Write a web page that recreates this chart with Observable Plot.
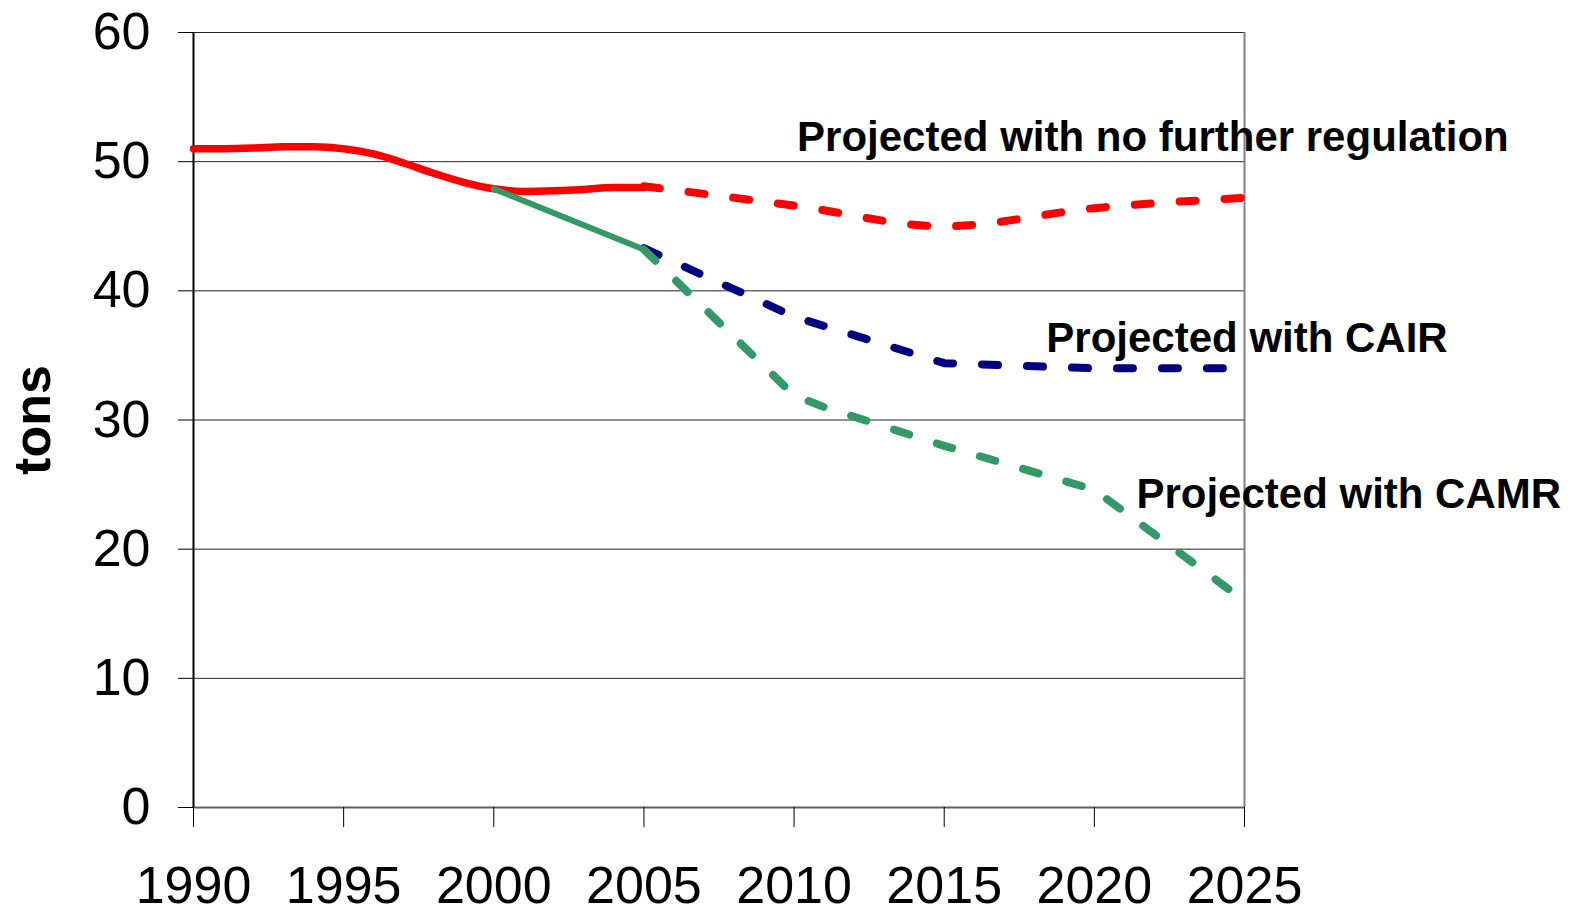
<!DOCTYPE html>
<html><head><meta charset="utf-8">
<script src="https://cdn.jsdelivr.net/npm/d3@7"></script>
<script src="https://cdn.jsdelivr.net/npm/@observablehq/plot@0.6"></script>
<style>html,body{margin:0;padding:0;background:#fff} svg{overflow:visible;display:block}</style>
</head><body><div id="chart"></div>
<script>
// Historical (solid red)
const actualYears  = [1990, 1991, 1992, 1993, 1994, 1995, 1996, 1997, 1998, 1999, 2000, 2001, 2002, 2003, 2004, 2005];
const actualValues = [51.0, 51.0, 51.05, 51.15, 51.15, 51.0, 50.6, 49.9, 49.1, 48.4, 47.9, 47.7, 47.75, 47.85, 48.0, 48.0];
// CAIR/CAMR path 2000-2005 (solid green)
const cutYears  = [2000, 2005];
const cutValues = [47.9, 43.2];
// Projected with no further regulation (dashed red)
const noRegYears  = [2005, 2010, 2015, 2020, 2025];
const noRegValues = [48.1, 46.6, 45.0, 46.4, 47.2];
// Projected with CAIR (dashed navy)
const cairYears  = [2005, 2010, 2015, 2020, 2025];
const cairValues = [43.3, 38.0, 34.4, 34.0, 34.0];
// Projected with CAMR (dashed green)
const camrYears  = [2005, 2010, 2011, 2015, 2020, 2025];
const camrValues = [43.2, 31.9, 31.0, 28.0, 24.6, 16.0];
// Axis ticks
const xTicks = [1990, 1995, 2000, 2005, 2010, 2015, 2020, 2025];
const yTicks = [0, 10, 20, 30, 40, 50, 60];
// Annotations
const labelTexts  = ["Projected with no further regulation", "Projected with CAIR", "Projected with CAMR"];
const labelYears  = [2010.1, 2018.4, 2021.4];
const labelValues = [51.9, 36.3, 24.2];

const pts = (xs, ys) => xs.map((x, i) => ({x, y: ys[i]}));
const labels = labelTexts.map((t, i) => ({t, x: labelYears[i], y: labelValues[i]}));

const chart = Plot.plot({
  width: 1572, height: 916,
  marginLeft: 193, marginRight: 328, marginTop: 32, marginBottom: 109,
  style: {fontFamily: "'Liberation Sans', Arial, sans-serif", background: "#fff", color: "#000", overflow: "visible"},
  x: {domain: [1990, 2025]},
  y: {domain: [0, 60]},
  marks: [
    Plot.gridY(yTicks, {stroke: "#000", strokeOpacity: 0.85, strokeWidth: 1}),
    Plot.ruleX([2025], {stroke: "#808080", strokeWidth: 2}),
    Plot.ruleY([0], {stroke: "#606060", strokeWidth: 2}),
    Plot.ruleX([1990], {stroke: "#000", strokeWidth: 2}),
    Plot.axisY(yTicks, {tickSize: 15, tickPadding: 28, fontSize: 52, label: null, stroke: "#000"}),
    Plot.axisX(xTicks, {tickSize: 20, tickPadding: 39, fontSize: 52, label: null, tickFormat: d => String(d)}),
    Plot.line(pts(noRegYears, noRegValues), {x: "x", y: "y", stroke: "#FF0000", strokeWidth: 8, strokeDasharray: "16,29", curve: "monotone-x"}),
    Plot.line(pts(cairYears, cairValues), {x: "x", y: "y", stroke: "#000080", strokeWidth: 8, strokeDasharray: "16,29"}),
    Plot.line(pts(camrYears, camrValues), {x: "x", y: "y", stroke: "#339966", strokeWidth: 8, strokeDasharray: "16,29"}),
    Plot.line(pts(actualYears, actualValues), {x: "x", y: "y", stroke: "#FF0000", strokeWidth: 7.5, strokeLinecap: "round", curve: "monotone-x"}),
    Plot.line(pts(cutYears, cutValues), {x: "x", y: "y", stroke: "#339966", strokeWidth: 6}),
    Plot.text(labels, {x: "x", y: "y", text: "t", textAnchor: "start", fontSize: 42, fontWeight: "bold", fill: "#000"}),
    Plot.text(["tons"], {frameAnchor: "left", dx: -160, rotate: -90, textAnchor: "middle", fontSize: 52, fontWeight: "bold", fill: "#000"})
  ]
});
document.getElementById("chart").appendChild(chart);
</script>
</body></html>
